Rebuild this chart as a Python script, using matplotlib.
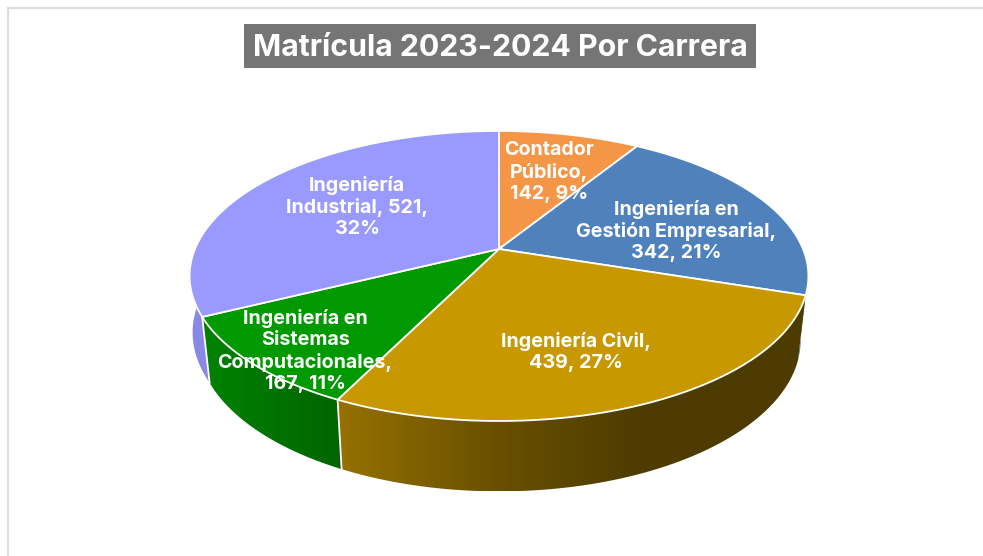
import numpy as np
import matplotlib
matplotlib.use('Agg')
import matplotlib.pyplot as plt
from matplotlib.patches import Polygon, Rectangle

title = 'Matrícula 2023-2024 Por Carrera'
values = [142, 342, 439, 167, 521]
percents = [9, 21, 27, 11, 32]
name_lines = [
    ['Contador', 'Público,'],
    ['Ingeniería en', 'Gestión Empresarial,'],
    ['Ingeniería Civil,'],
    ['Ingeniería en', 'Sistemas', 'Computacionales,'],
    ['Ingeniería', 'Industrial, {v},'],
]
colors = ['#f59647', '#4f81bd', '#c89800', '#009900', '#9999ff']

# projection of the tilted disc into pixels
CX, CY = 499., 249.
A, B, K = 304., 140., 0.186
SX, BOT_B, BOT_C = 0.975, 146., 312.


def top_xy(t):
    den = 1 + K * np.cos(t)
    return CX + A * np.sin(t) / den, CY - B * np.cos(t) / den


def bot_xy(t):
    den = 1 + K * np.cos(t)
    # the lower rim flares out a little on the far left
    sx = np.interp(t, np.radians([243.6, 285.]), [SX, 1.012])
    return CX + sx * A * np.sin(t) / den, BOT_C - BOT_B * np.cos(t) / den


def shade(i, x):
    if i == 2:
        return np.interp(x, [343, 500, 640], [0.74, 0.52, 0.39])
    if i == 3:
        return np.interp(x, [210, 340], [0.84, 0.66])
    return np.full_like(x, 0.9)


fig = plt.figure(figsize=(9.83, 5.56), dpi=100)
ax = fig.add_axes([0, 0, 1, 1])

# frame
ax.plot([8, 8, 983], [556, 8, 8], color='#dcdcdc', lw=1.5, solid_joinstyle='miter')

edges = np.cumsum([0] + values) / float(sum(values)) * 2 * np.pi

# sides first, back to front
for i in [4, 1, 0, 3, 2]:
    t = np.linspace(edges[i], edges[i + 1], 240)
    tx, ty = top_xy(t)
    bx, by = bot_xy(t)
    pts = np.column_stack([np.r_[tx, bx[::-1]], np.r_[ty, by[::-1]]])
    poly = Polygon(pts, closed=True, facecolor='none', edgecolor='none', transform=ax.transData)
    ax.add_patch(poly)
    x0, x1 = pts[:, 0].min(), pts[:, 0].max()
    y0, y1 = pts[:, 1].min(), pts[:, 1].max()
    xs = np.arange(np.floor(x0), np.ceil(x1) + 1)
    base = np.array(matplotlib.colors.to_rgb(colors[i]))
    grad = base[None, None, :] * shade(i, xs)[None, :, None]
    im = ax.imshow(grad, extent=(xs[0], xs[-1], y1, y0), aspect='auto',
                   interpolation='bilinear', zorder=2 + 0.01 * i)
    im.set_clip_path(poly)

# white seams on the side
for e in edges[3:5]:
    tx, ty = top_xy(e)
    bx, by = bot_xy(e)
    ax.plot([tx, bx], [ty, by], color='white', lw=1.3, zorder=3)

# top face
for i in range(len(values)):
    t = np.linspace(edges[i], edges[i + 1], 200)
    tx, ty = top_xy(t)
    pts = np.column_stack([np.r_[CX, tx], np.r_[CY, ty]])
    ax.add_patch(Polygon(pts, closed=True, facecolor=colors[i], edgecolor='white',
                         lw=1.3, joinstyle='round', zorder=4))

# title
ax.add_patch(Rectangle((244, 24), 512, 44, facecolor='#757575', edgecolor='none', zorder=5))
ax.text(500, 48, title, color='white', fontsize=21.8, fontweight='bold', family='Inter',
        ha='center', va='center', zorder=6)

# labels
label_pos = [(549, 172), (676, 231), (576, 352), (305, 351), (357, 207)]
label_lines = []
for i in range(len(values)):
    lines = [s.format(v=values[i]) for s in name_lines[i]]
    if i == 4:
        lines.append('%d%%' % percents[i])
    else:
        lines.append('%d, %d%%' % (values[i], percents[i]))
    label_lines.append('\n'.join(lines))
for (x, y), s in zip(label_pos, label_lines):
    ax.text(x, y, s, color='white', fontsize=14.2, fontweight='bold', family='Inter',
            ha='center', va='center', linespacing=1.215, zorder=7)

ax.set_xlim(0, 983)
ax.set_ylim(556, 0)
ax.axis('off')

fig.savefig('out.png', dpi=100)
